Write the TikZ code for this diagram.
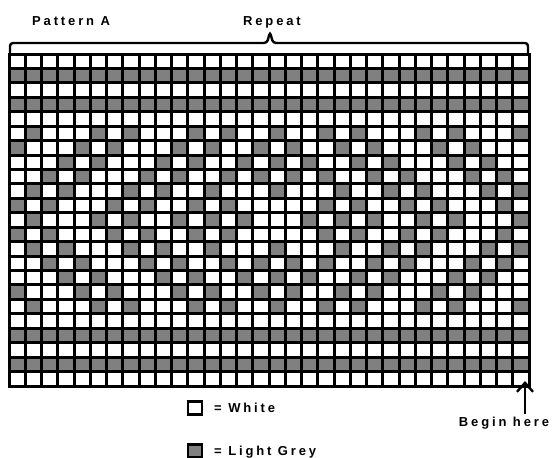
\documentclass[tikz,border=0pt]{standalone}
\usepackage{fontspec}
\newfontfamily\chartfont[LetterSpace=22]{Liberation Sans}
\usetikzlibrary{arrows.meta}
\definecolor{knitgrey}{RGB}{128,128,128}

\begin{document}
\begin{tikzpicture}[x=1pt,y=-1pt,font=\chartfont\bfseries\fontsize{13}{15}\selectfont,
  greycell/.style={fill=knitgrey},
  gridline/.style={line width=3pt},
  bracket/.style={line width=2.4pt,rounded corners=3pt},
  keybox/.style={draw,line width=2.6pt,minimum width=14pt,minimum height=13pt,inner sep=0pt},
  beginarrow/.style={line width=2.4pt,-{Straight Barb[length=9pt,width=16pt]}}]
\useasboundingbox (0,0) rectangle (555,458);
\def\cw{16.25}
\def\ch{14.435}
\foreach \r/\cols in {2/{1,...,17},4/{1,...,17},6/{2,6,8,12,14,17},7/{1,5,7,11,13,16},
    8/{4,6,10,12,15,17},9/{3,5,9,11,14,16},10/{2,4,8,10,13,17},11/{1,3,7,9,12,14},
    12/{2,6,8,11,13,15},13/{1,3,7,9,12,14},14/{2,4,8,10,13,17},15/{3,5,9,11,14,16},
    16/{4,6,10,12,15,17},17/{1,5,7,11,13,16},18/{2,6,8,12,14,17},20/{1,...,17},22/{1,...,17}}{
  \foreach \c in \cols {
    \fill[greycell] ({9+(\c-1)*\cw},{54+(\r-1)*\ch}) rectangle ++(\cw,\ch);
    \ifnum\c>1 \fill[greycell] ({9+(33-\c)*\cw},{54+(\r-1)*\ch}) rectangle ++(\cw,\ch); \fi
  }
}
\foreach \i in {0,...,32} \draw[gridline] ({9+\i*\cw},54) -- ({9+\i*\cw},386);
\foreach \j in {0,...,23} \draw[gridline] (9,{54+\j*\ch}) -- (529,{54+\j*\ch});
\draw[gridline,line join=miter] (9,54) rectangle (529,386);

\node[anchor=base west,inner sep=0pt] (patternA) at (32,25) {Pattern A};
\node[anchor=base,inner sep=0pt] (repeat) at (272,25) {Repeat};
\draw[bracket] (10,54) -- (10,43) -- (267,43) -- (270,32) -- (273,43) -- (528,43) -- (528,54);

\coordinate (start) at (525,381);
\node[anchor=base,inner sep=0pt] (beginhere) at (504,426) {Begin here};
\draw[beginarrow] (beginhere.north -| start) ++(0,-2) -- (start);

\node[keybox,fill=white] (whitekey) at (195,408) {};
\node[anchor=base west,inner sep=0pt] (whitelabel) at (214,412) {= White};
\node[keybox,fill=knitgrey] (greykey) at (195,451) {};
\node[anchor=base west,inner sep=0pt] (greylabel) at (214,455) {= Light Grey};
\end{tikzpicture}
\end{document}
